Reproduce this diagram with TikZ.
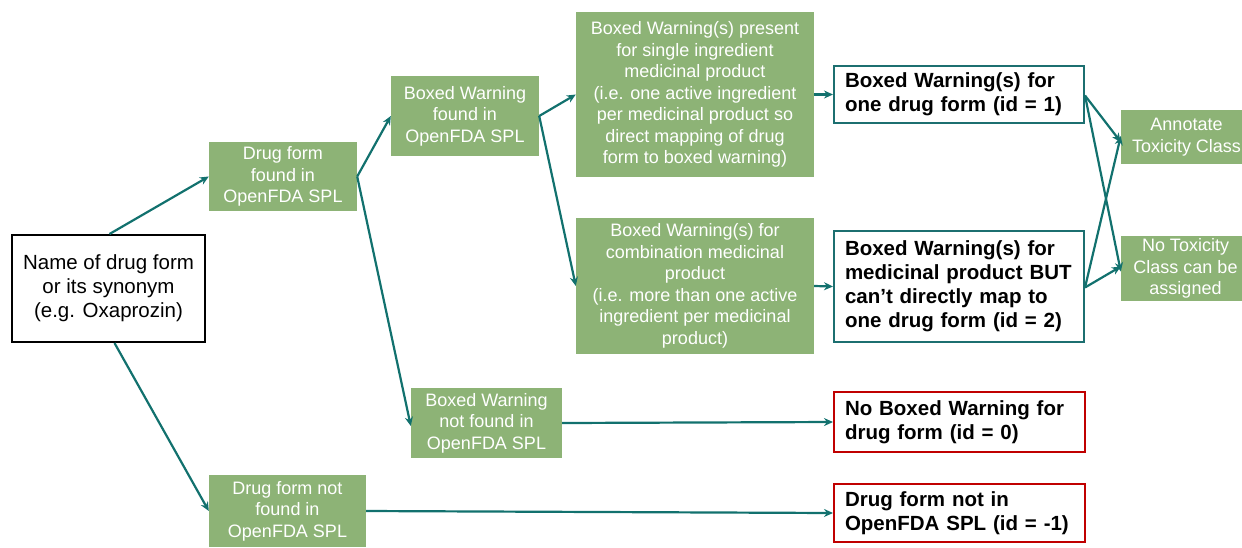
\documentclass[tikz,border=0pt]{standalone}
\usepackage{fontspec}
\setmainfont{Liberation Sans}
\usetikzlibrary{arrows.meta}
\definecolor{boxgreen}{HTML}{8DB376}
\definecolor{arrteal}{HTML}{12716E}
\definecolor{tealborder}{HTML}{1C6F70}
\definecolor{redborder}{HTML}{C00000}
\tikzset{
  greenbox/.style={fill=boxgreen, draw=none, text=white, align=center, inner sep=2pt,
    font=\fontsize{18}{21.5}\selectfont},
  blackbox/.style={draw=black, line width=2pt, fill=white, align=center,
    font=\fontsize{20.5}{24}\selectfont},
  resultbox/.style={draw=#1, line width=2pt, fill=white, align=left, inner sep=0pt,
    font=\fontsize{20.5}{24}\selectfont\bfseries},
  conn/.style={draw=arrteal, line width=2.2pt, -{Stealth[length=9pt,width=8pt]}}
}
\begin{document}
\begin{tikzpicture}[x=1pt,y=-1pt]
\useasboundingbox (0,0) rectangle (1242,547);
% nodes
\node[blackbox, minimum width=193pt, minimum height=107pt] (name) at (108.5,288.5)
  {Name of drug form\\or its synonym\\(e.g. Oxaprozin)};
\node[greenbox, minimum width=148pt, minimum height=69pt] (dff) at (283,176.5)
  {Drug form\\found in\\OpenFDA SPL};
\node[greenbox, minimum width=148pt, minimum height=80pt] (bwf) at (465,116)
  {Boxed Warning\\found in\\OpenFDA SPL};
\node[greenbox, minimum width=238pt, minimum height=165pt] (single) at (695,94.5)
  {Boxed Warning(s) present\\for single ingredient\\medicinal product\\(i.e. one active ingredient\\per medicinal product so\\direct mapping of drug\\form to boxed warning)};
\node[greenbox, minimum width=238pt, minimum height=136pt] (combo) at (695,286)
  {Boxed Warning(s) for\\combination medicinal\\product\\(i.e. more than one active\\ingredient per medicinal\\product)};
\node[greenbox, minimum width=151pt, minimum height=70pt] (bwnf) at (486.5,423)
  {Boxed Warning\\not found in\\OpenFDA SPL};
\node[greenbox, minimum width=157pt, minimum height=72pt] (dfnf) at (287.5,511)
  {Drug form not\\found in\\OpenFDA SPL};
\node[resultbox=tealborder, minimum width=250pt, minimum height=57pt, text width=228pt] (id1) at (959,94.5)
  {Boxed Warning(s) for\\one drug form (id = 1)};
\node[resultbox=tealborder, minimum width=250pt, minimum height=111pt, text width=228pt] (id2) at (959,286.5)
  {Boxed Warning(s) for\\medicinal product BUT\\can’t directly map to\\one drug form (id = 2)};
\node[resultbox=redborder, minimum width=251pt, minimum height=60pt, text width=229pt] (nobw) at (959.5,422)
  {No Boxed Warning for\\drug form (id = 0)};
\node[resultbox=redborder, minimum width=251pt, minimum height=58pt, text width=229pt] (notin) at (959.5,513)
  {Drug form not in\\OpenFDA SPL (id = -1)};
\node[greenbox, minimum width=121pt, minimum height=54pt, inner sep=0pt] (annot) at (1181.5,137)
  {\hspace*{10pt}Annotate\\\hspace*{10pt}\makebox[0pt][c]{Toxicity Class}};
\node[greenbox, minimum width=121pt, minimum height=65pt, inner sep=0pt] (notox) at (1181.5,268.5)
  {\hspace*{8pt}No Toxicity\\\hspace*{8pt}Class can be\\\hspace*{8pt}assigned};
% connectors
\draw[conn] ([xshift=1pt]name.north) -- (dff.west);
\draw[conn] ([xshift=6pt]name.south) -- (dfnf.west);
\draw[conn] (dff.east) -- (bwf.west);
\draw[conn] (dff.east) -- ([yshift=-3pt]bwnf.west);
\draw[conn] (bwf.east) -- (single.west);
\draw[conn] (bwf.east) -- (combo.west);
\draw[conn] (single.east) -- (id1.west);
\draw[conn] (combo.east) -- (id2.west);
\draw[conn] (bwnf.east) -- (nobw.west);
\draw[conn] (dfnf.east) -- (notin.west);
\draw[conn] ([yshift=-1pt]id1.east) -- ([yshift=-5pt]annot.west);
\draw[conn] ([yshift=-1pt]id1.east) -- ([yshift=-3pt]notox.west);
\draw[conn] ([yshift=-1pt]id2.east) -- ([yshift=1pt]annot.west);
\draw[conn] ([yshift=-1pt]id2.east) -- ([yshift=2pt]notox.west);
\end{tikzpicture}
\end{document}
